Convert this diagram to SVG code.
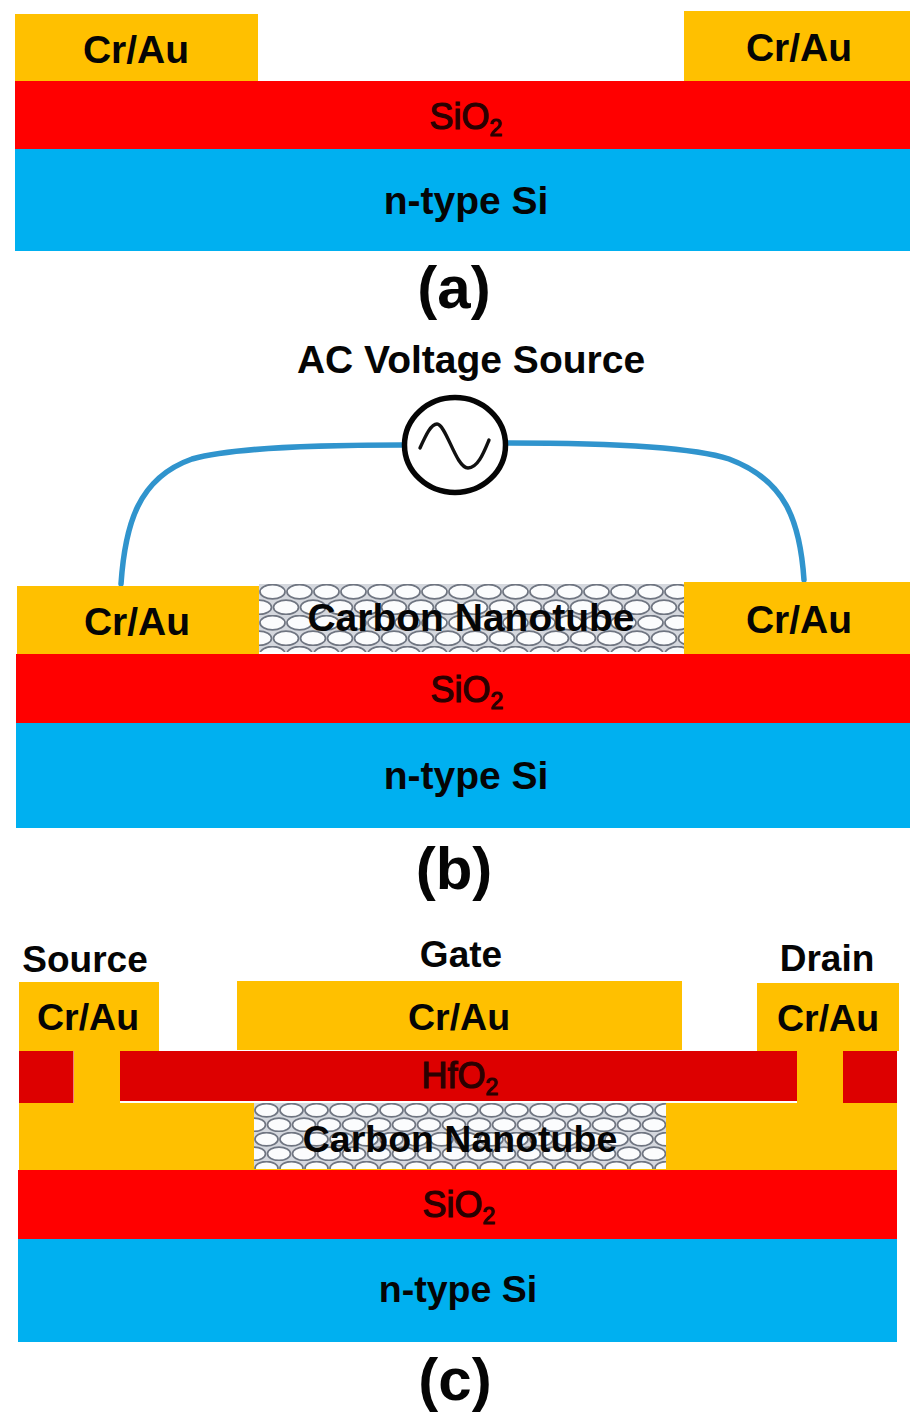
<svg xmlns="http://www.w3.org/2000/svg" width="910" height="1412" viewBox="0 0 910 1412">
<style>
text{font-family:"Liberation Sans",Arial,sans-serif;font-weight:700;fill:#050505;text-anchor:middle}
.t{font-size:39px}.s{font-size:39px}.c{font-size:37.500px}.lab{font-size:37px}
.ox{font-size:36px;font-weight:400;fill:#2a0000;stroke:#2a0000;stroke-width:1.200px}
.sub{font-size:23px}.cap{font-size:60px}
.au{fill:#ffc000}.si{fill:#00b0f0}.red{fill:#ff0000}.hf{fill:#dd0000}
.wire{fill:none;stroke:#3094cd;stroke-width:5.500;stroke-linecap:round}
.hex{fill:#fbfcfd;stroke:#6f7581;stroke-width:1.700}
</style>
<defs>
<pattern id="cnt" width="27" height="31" patternUnits="userSpaceOnUse" x="259" y="584">
<rect width="27" height="31" fill="#d5d8de"/>
<ellipse class="hex" cx="13.500" cy="7.750" rx="12.500" ry="7.200"/>
<ellipse class="hex" cx="0" cy="23.250" rx="12.500" ry="7.200"/>
<ellipse class="hex" cx="27" cy="23.250" rx="12.500" ry="7.200"/>
</pattern>
<pattern id="cnt2" width="25" height="29" patternUnits="userSpaceOnUse" x="254" y="1103">
<rect width="25" height="29" fill="#d5d8de"/>
<ellipse class="hex" cx="12.500" cy="7.250" rx="11.500" ry="6.700"/>
<ellipse class="hex" cx="0" cy="21.750" rx="11.500" ry="6.700"/>
<ellipse class="hex" cx="25" cy="21.750" rx="11.500" ry="6.700"/>
</pattern>
</defs>

<g id="panel-a">
<g id="a-si"><rect class="si" x="15" y="149" width="895" height="102"/><text class="s" x="466" y="214">n-type Si</text></g>
<g id="a-sio2"><rect class="red" x="15" y="81" width="895" height="68"/><text class="ox" x="466" y="129">SiO<tspan class="sub" dy="7">2</tspan></text></g>
<g id="a-left"><rect class="au" x="15" y="14" width="243" height="67"/><text class="t" x="136" y="63">Cr/Au</text></g>
<g id="a-right"><rect class="au" x="684" y="11" width="226" height="70"/><text class="t" x="799" y="61">Cr/Au</text></g>
<text id="a-cap" class="cap" x="454" y="308">(a)</text>
</g>

<g id="panel-b">
<g id="connectors">
<path class="wire" d="M121 584C125 525 138 478 192 459C235 447 320 445 402 445"/>
<path class="wire" d="M804 580C800 520 785 480 729 459C690 446 600 443 508 443"/>
</g>
<g id="b-source">
<text class="s" x="471" y="373">AC Voltage Source</text>
<ellipse cx="455" cy="445" rx="50.500" ry="47.500" fill="#fff" stroke="#050505" stroke-width="5.500"/>
<path d="M420 448C426 435 431 424 437 424C446 424 456 468 468 468C478 468 484 452 489 440" fill="none" stroke="#111" stroke-width="3.400" stroke-linecap="round"/>
</g>
<g id="b-si"><rect class="si" x="16" y="723" width="894" height="105"/><text class="s" x="466" y="789">n-type Si</text></g>
<g id="b-sio2"><rect class="red" x="16" y="654" width="894" height="69"/><text class="ox" x="467" y="702">SiO<tspan class="sub" dy="7">2</tspan></text></g>
<g id="b-cnt"><rect x="259" y="584" width="425" height="68" fill="url(#cnt)"/><text class="s" x="471" y="631">Carbon Nanotube</text></g>
<g id="b-left"><rect class="au" x="17" y="586" width="242" height="68"/><text class="t" x="137" y="635">Cr/Au</text></g>
<g id="b-right"><rect class="au" x="684" y="582" width="226" height="72"/><text class="t" x="799" y="633">Cr/Au</text></g>
<text id="b-cap" class="cap" x="454" y="889">(b)</text>
</g>

<g id="panel-c">
<g id="c-si"><rect class="si" x="18" y="1239" width="879" height="103"/><text class="c" x="458" y="1302">n-type Si</text></g>
<g id="c-sio2"><rect class="red" x="18" y="1170" width="879" height="69"/><text class="ox" x="459" y="1217">SiO<tspan class="sub" dy="7">2</tspan></text></g>
<g id="c-metal">
<rect class="au" x="19" y="1103" width="878" height="67"/>
<rect class="au" x="74" y="1050" width="46" height="55"/>
<rect class="au" x="797" y="1050" width="46" height="55"/>
</g>
<g id="c-cnt"><rect x="254" y="1103" width="412" height="66" fill="url(#cnt2)"/><text class="c" x="460" y="1152">Carbon Nanotube</text></g>
<g id="c-hfo2">
<rect class="hf" x="19" y="1051" width="54.500" height="52"/>
<rect class="hf" x="120" y="1051" width="677" height="50"/>
<rect class="hf" x="843" y="1051" width="54" height="52"/>
<text class="ox" x="460" y="1088">HfO<tspan class="sub" dy="7">2</tspan></text>
</g>
<g id="c-source"><rect class="au" x="19" y="982" width="140" height="69"/><text class="c" x="88" y="1030">Cr/Au</text><text class="lab" x="85" y="972">Source</text></g>
<g id="c-gate"><rect class="au" x="237" y="981" width="445" height="69"/><text class="c" x="459" y="1030">Cr/Au</text><text class="lab" x="461" y="967">Gate</text></g>
<g id="c-drain"><rect class="au" x="757" y="983" width="142" height="68"/><text class="c" x="828" y="1031">Cr/Au</text><text class="lab" x="827" y="971">Drain</text></g>
<text id="c-cap" class="cap" x="455" y="1400">(c)</text>
</g>
</svg>
